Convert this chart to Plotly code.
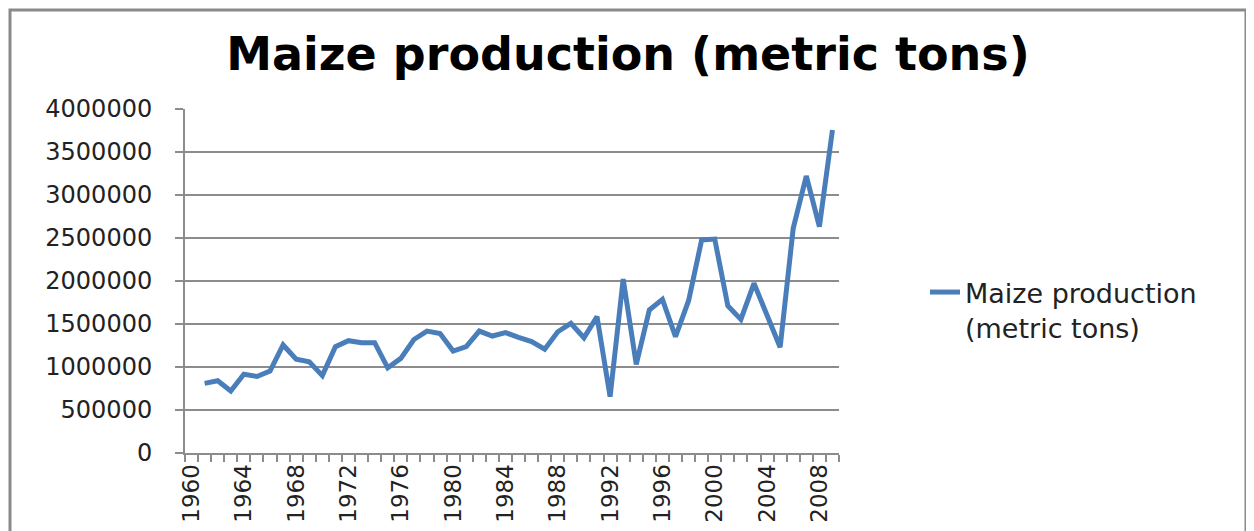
import plotly.graph_objects as go

years = list(range(1960, 2010))
production = [None,
              810000, 840000, 720000, 915000, 890000, 953000, 1256000, 1090000, 1060000, 900000,
              1236000, 1306000, 1283000, 1283000, 990000, 1100000, 1320000, 1418000, 1390000, 1186000,
              1236000, 1418000, 1360000, 1400000, 1345000, 1295000, 1206000, 1410000, 1508000, 1340000,
              1585000, 655000, 2023000, 1030000, 1663000, 1787000, 1353000, 1771000, 2477000, 2488000,
              1713000, 1554000, 1973000, 1605000, 1229000, 2613000, 3221000, 2632000, 3756000]
tick_years = list(range(1960, 2010, 4))
y_ticks = list(range(0, 4000001, 500000))
series_name = "Maize production<br>(metric tons)"
title_text = "Maize production (metric tons)"

OFF = 8  # default page body margin
W, H = 1254 - OFF, 531 - OFF
# plot area in page pixels
PL, PR, PT, PB = 185, 839, 109, 453
L, R, T, B = PL - OFF, PR - OFF, PT - OFF, PB - OFF

fig = go.Figure()
fig.add_trace(go.Scatter(
    x=years, y=production, mode="lines", name=series_name,
    line=dict(color="#4A7EBB", width=5), connectgaps=False,
))

def px_to_paper_x(px):
    return (px - PL) / (PR - PL)

def px_to_paper_y(py):
    return (PB - py) / (PB - PT)

fig.update_layout(
    width=W, height=H,
    margin=dict(l=L, r=W - R, t=T, b=H - B, pad=0, autoexpand=False),
    paper_bgcolor="white", plot_bgcolor="white",
    title=dict(text=f"<b>{title_text}</b>", x=(628 - OFF) / W, xanchor="center",
               y=1 - (54 - OFF) / H, yanchor="middle", yref="container", automargin=False,
               font=dict(family="DejaVu Sans", size=46, color="black")),
    showlegend=True,
    legend=dict(x=px_to_paper_x(925), y=px_to_paper_y(268), xanchor="left", yanchor="top",
                font=dict(family="DejaVu Sans", size=27, color="#222"),
                valign="top", bgcolor="rgba(0,0,0,0)"),
    xaxis=dict(range=[1959.5, 2009.5], tickmode="array", tickvals=tick_years,
               ticktext=[str(v) for v in tick_years], tickangle=-90, automargin=False,
               ticks="", showgrid=False, zeroline=False,
               showline=True, linecolor="#8c8c8c", linewidth=2,
               tickfont=dict(family="DejaVu Sans", size=23, color="#222"),
               minor=dict(ticks="outside", tick0=1959.5, dtick=1, ticklen=7,
                          tickcolor="#8c8c8c", tickwidth=2, showgrid=False)),
    yaxis=dict(range=[0, 4000000], tickmode="array", tickvals=y_ticks,
               ticktext=[str(v) for v in y_ticks], automargin=False,
               ticks="outside", ticklen=8, tickcolor="#8c8c8c", tickwidth=2,
               ticklabelstandoff=18,
               showgrid=True, gridcolor="#8c8c8c", gridwidth=2,
               zeroline=False, showline=True, linecolor="#8c8c8c", linewidth=2,
               tickfont=dict(family="DejaVu Sans", size=24, color="#222")),
)

fig.add_shape(type="rect", xref="paper", yref="paper",
              x0=px_to_paper_x(10), x1=px_to_paper_x(1246),
              y0=px_to_paper_y(560), y1=px_to_paper_y(10),
              line=dict(color="#8a8a8a", width=3), fillcolor="rgba(0,0,0,0)", layer="below")

fig.write_html("out.html")
